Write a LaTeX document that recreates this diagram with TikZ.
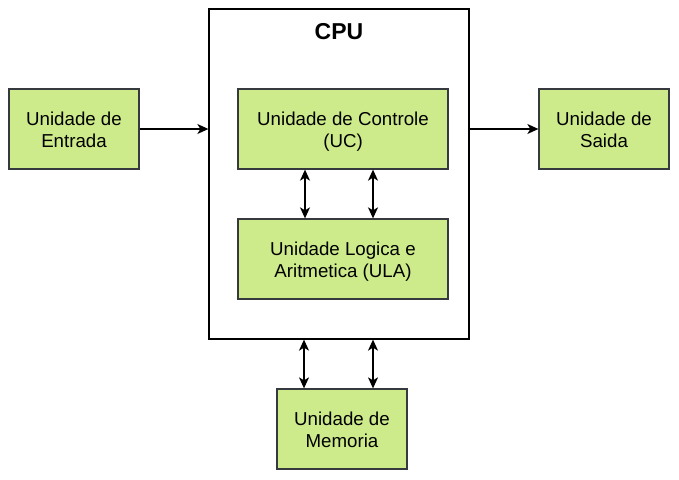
\documentclass[tikz,border=0pt]{standalone}
\usepackage{fontspec}
\setmainfont{Liberation Sans}
\usetikzlibrary{arrows.meta}
\definecolor{boxgreen}{HTML}{CDEB8B}
\definecolor{boxline}{HTML}{36393D}
\newcommand\lowtxt[1]{\raisebox{-3pt}[\height][\depth]{\begin{tabular}{@{}c@{}}#1\end{tabular}}}
\begin{document}
\begin{tikzpicture}[x=1pt,y=-1pt,
  unit/.style={draw=boxline, fill=boxgreen, line width=1.3pt, align=center,
    inner sep=0pt, font=\fontsize{18.7}{21.6}\selectfont},
  cpubox/.style={draw=black, fill=white, line width=1.3pt, inner sep=0pt},
  tip/.tip={Stealth[length=11pt,width=10pt,inset=3pt]},
  conn/.style={line width=1.3pt, -tip},
  dbl/.style={line width=1.3pt, tip-tip}]
\useasboundingbox (0,0) rectangle (679,479);
\node[cpubox, minimum width=260pt, minimum height=330pt] (cpu) at (339,174) {};
\node[font=\fontsize{23}{28}\selectfont\bfseries] (cputitle) at (339,32) {CPU};
\node[unit, minimum width=130pt, minimum height=80pt] (entrada) at (74,129) {\lowtxt{Unidade de\\Entrada}};
\node[unit, minimum width=210pt, minimum height=80pt] (uc) at (343,129) {\lowtxt{Unidade de Controle\\(UC)}};
\node[unit, minimum width=210pt, minimum height=80pt] (ula) at (343,259) {\lowtxt{Unidade Logica e\\Aritmetica (ULA)}};
\node[unit, minimum width=130pt, minimum height=80pt] (saida) at (604,129) {\lowtxt{Unidade de\\Saida}};
\node[unit, minimum width=130pt, minimum height=80pt] (mem) at (342,429) {\lowtxt{Unidade de\\Memoria}};
\coordinate (c1) at (305,0);
\coordinate (c2) at (373,0);
\coordinate (m1) at (304,0);
\coordinate (m2) at (373,0);
\draw[conn] (entrada.east) -- (entrada.east -| cpu.west);
\draw[conn] (cpu.east |- saida.west) -- (saida.west);
\draw[dbl] (c1 |- uc.south) -- (c1 |- ula.north);
\draw[dbl] (c2 |- uc.south) -- (c2 |- ula.north);
\draw[dbl] (m1 |- cpu.south) -- (m1 |- mem.north);
\draw[dbl] (m2 |- cpu.south) -- (m2 |- mem.north);
\end{tikzpicture}
\end{document}
